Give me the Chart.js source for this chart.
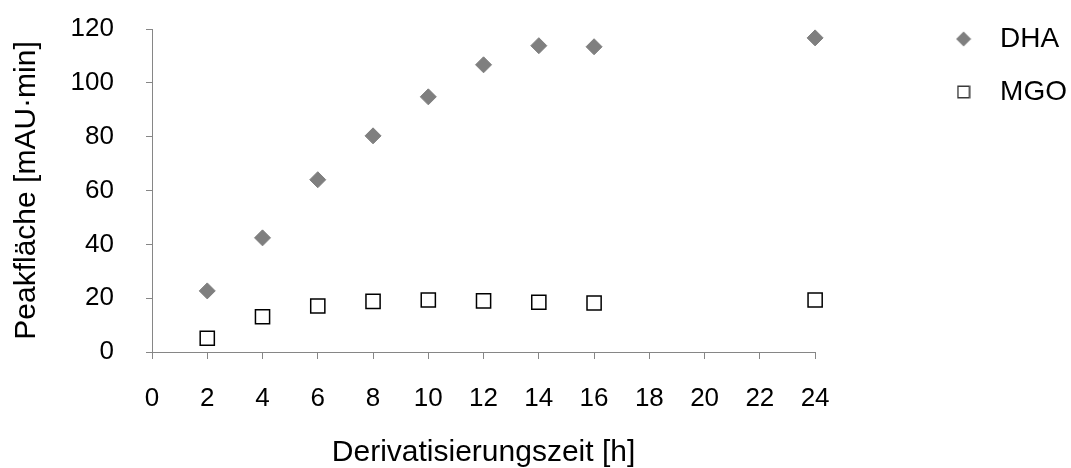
<!DOCTYPE html>
<html lang="de">
<head>
<meta charset="utf-8">
<title>Peakfläche über Derivatisierungszeit</title>
<script src="https://cdn.jsdelivr.net/npm/chart.js@4.4.1/dist/chart.umd.min.js"></script>
<style>
  html, body { margin: 0; padding: 0; background: #fff; }
</style>
</head>
<body>
<canvas id="chart" width="1071" height="468"></canvas>
<script>
// Derivatisierungszeit in h
const hours = [2, 4, 6, 8, 10, 12, 14, 16, 24];
// Peakflächen in mAU·min
const dhaArea = [22.7, 42.4, 64.0, 80.3, 94.8, 106.7, 113.8, 113.4, 116.7];
const mgoArea = [5.1, 13.1, 17.1, 18.8, 19.3, 19.0, 18.5, 18.2, 19.3];

const FONT = "'Liberation Sans', Arial, sans-serif";
const AXIS_GREY = "#868686";
const DHA_GREY = "#7f7f7f";

const toPoints = (xs, ys) => xs.map((x, i) => ({ x: x, y: ys[i] }));

// small canvas markers for the legend
const makeMarker = (size, draw) => {
    const c = document.createElement("canvas");
    c.width = size;
    c.height = size;
    draw(c.getContext("2d"), size);
    return c;
};

const legendMarkers = [
    makeMarker(16, (ctx, s) => {
        ctx.fillStyle = DHA_GREY;
        ctx.beginPath();
        ctx.moveTo(s / 2, 0.5);
        ctx.lineTo(s - 0.5, s / 2);
        ctx.lineTo(s / 2, s - 0.5);
        ctx.lineTo(0.5, s / 2);
        ctx.closePath();
        ctx.fill();
    }),
    makeMarker(14, (ctx, s) => {
        ctx.fillStyle = "#ffffff";
        ctx.fillRect(1, 1, s - 2, s - 2);
        ctx.strokeStyle = "#3a3a3a";
        ctx.lineWidth = 1.5;
        ctx.strokeRect(1.25, 1.25, s - 2.5, s - 2.5);
    }),
];

new Chart(document.getElementById("chart"), {
    type: "scatter",
    data: {
        datasets: [
            {
                label: "DHA",
                data: toPoints(hours, dhaArea),
                clip: false,
                pointStyle: "rectRot",
                pointRadius: 8,
                pointHoverRadius: 8,
                backgroundColor: DHA_GREY,
                borderColor: DHA_GREY,
                borderWidth: 1,
            },
            {
                label: "MGO",
                data: toPoints(hours, mgoArea),
                clip: false,
                pointStyle: "rect",
                pointRadius: 10,
                pointHoverRadius: 10,
                backgroundColor: "#ffffff",
                borderColor: "#000000",
                borderWidth: 1.5,
            },
        ],
    },
    options: {
        responsive: false,
        animation: false,
        layout: { padding: { left: 0, top: 0, right: -6, bottom: 0 } },
        plugins: {
            tooltip: { enabled: false },
            legend: {
                position: "right",
                align: "start",
                labels: {
                    usePointStyle: true,
                    pointStyleWidth: 45,
                    padding: 25,
                    color: "#000",
                    font: { size: 28, family: FONT },
                    generateLabels: (chart) => {
                        const items = Chart.defaults.plugins.legend.labels.generateLabels(chart);
                        items.forEach((item, i) => {
                            item.pointStyle = legendMarkers[i];
                        });
                        return items;
                    },
                },
            },
        },
        scales: {
            x: {
                type: "linear",
                min: 0,
                max: 24,
                grid: {
                    drawOnChartArea: false,
                    drawTicks: true,
                    tickLength: 7,
                    color: AXIS_GREY,
                },
                border: { display: true, color: AXIS_GREY, width: 1 },
                ticks: {
                    stepSize: 2,
                    padding: 24,
                    color: "#000",
                    maxRotation: 0,
                    font: { size: 26, family: FONT },
                },
                title: {
                    display: true,
                    text: "Derivatisierungszeit [h]",
                    color: "#000",
                    font: { size: 30, family: FONT, lineHeight: 1 },
                    padding: { top: 0, bottom: 0 },
                },
                afterFit: (scale) => {
                    scale.height = 116;
                },
            },
            y: {
                type: "linear",
                min: 0,
                max: 120,
                grid: {
                    drawOnChartArea: false,
                    drawTicks: true,
                    tickLength: 6,
                    color: AXIS_GREY,
                },
                border: { display: true, color: AXIS_GREY, width: 1 },
                ticks: {
                    stepSize: 20,
                    padding: 32,
                    color: "#000",
                    font: { size: 26, family: FONT },
                },
                title: {
                    display: true,
                    text: "Peakfläche [mAU·min]",
                    color: "#000",
                    font: { size: 30, family: FONT, lineHeight: 1 },
                    padding: { top: 12, bottom: 0 },
                },
                // fixed axis width and room above the 120 label
                afterFit: (scale) => {
                    scale.width = 152;
                    scale.paddingTop = 29;
                },
            },
            // empty spacer between plot and legend
            gap: {
                type: "linear",
                position: "right",
                display: true,
                grid: { display: false },
                border: { display: false },
                ticks: { display: false },
                afterFit: (scale) => {
                    scale.width = 101;
                },
            },
        },
    },
});
</script>
</body>
</html>
